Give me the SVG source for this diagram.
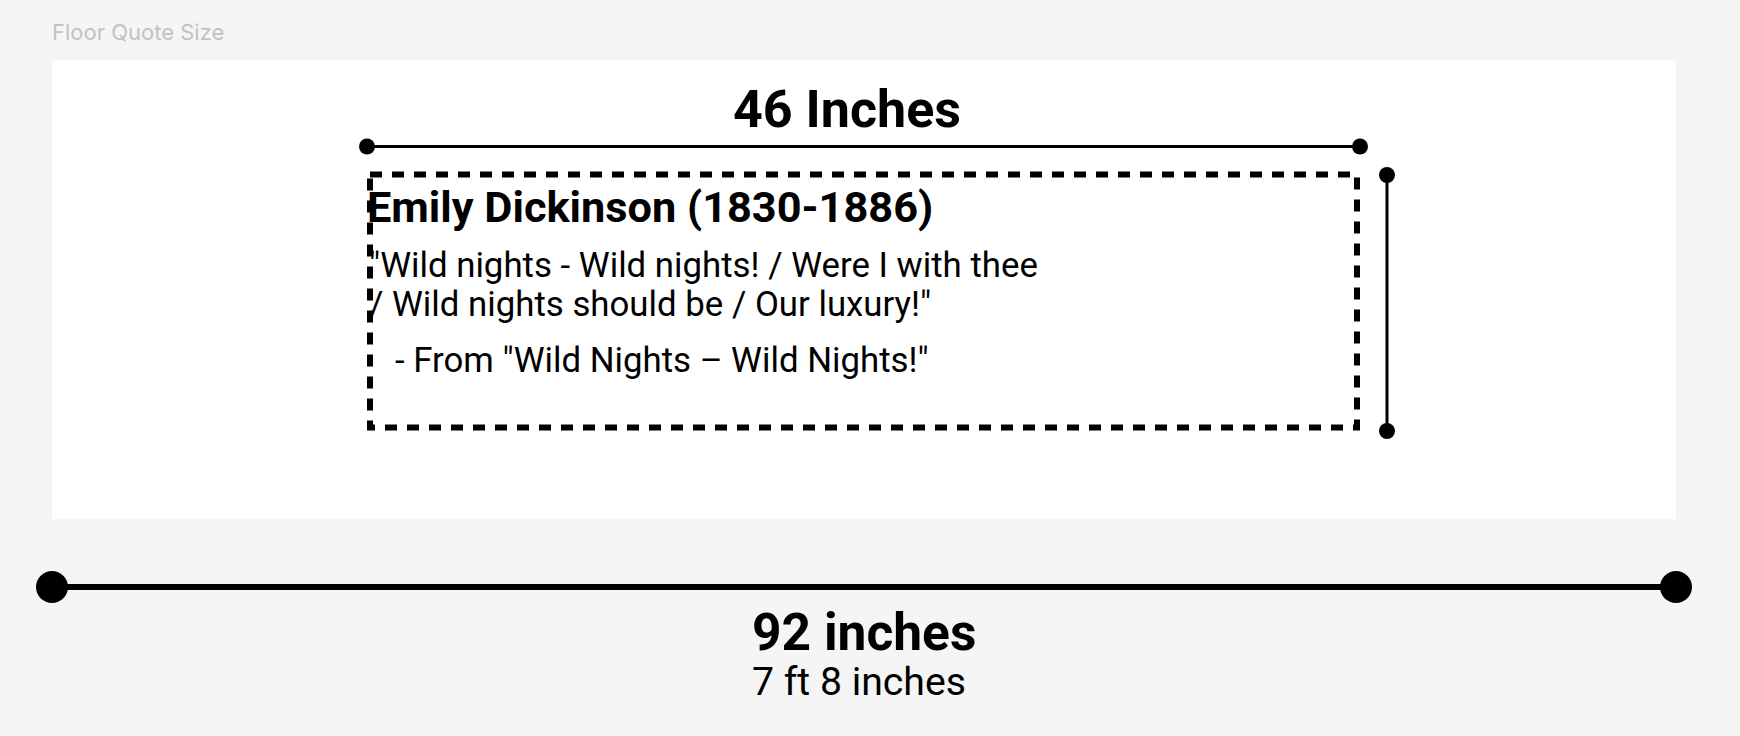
<svg xmlns="http://www.w3.org/2000/svg" width="1740" height="736" viewBox="0 0 1740 736">
<style>
.t{font-family:Roboto,"Liberation Sans",sans-serif;fill:#000}
.b{font-weight:700}
.dim{stroke:#000;fill:none}
.dot{fill:#000}
</style>
<rect width="1740" height="736" fill="#f5f5f5"/>
<text x="52" y="40" font-family="Inter,'Liberation Sans',sans-serif" font-size="22" fill="#c2c2c2">Floor Quote Size</text>
<g id="panel">
<rect x="52" y="60" width="1624" height="459" fill="#fff"/>
</g>
<g id="quote">
<rect x="370" y="174.5" width="987" height="253" fill="none" stroke="#000" stroke-width="6" stroke-dasharray="12 10"/>
<text class="t b" x="367" y="222" font-size="43.3">Emily Dickinson (1830-1886)</text>
<text class="t" x="369" y="277" font-size="34.8">"Wild nights - Wild nights! / Were I with thee</text>
<text class="t" x="369" y="316" font-size="34.8">/ Wild nights should be / Our luxury!"</text>
<text class="t" x="395" y="372" font-size="34.8">- From "Wild Nights – Wild Nights!"</text>
</g>
<g id="connectors">
<line class="dim" x1="367" y1="146.5" x2="1360" y2="146.5" stroke-width="3"/>
<circle class="dot" cx="367" cy="146.5" r="8"/>
<circle class="dot" cx="1360" cy="146.5" r="8"/>
<line class="dim" x1="1387" y1="175" x2="1387" y2="431" stroke-width="3"/>
<circle class="dot" cx="1387" cy="175" r="8"/>
<circle class="dot" cx="1387" cy="431" r="8"/>
<line class="dim" x1="52" y1="587" x2="1676" y2="587" stroke-width="6"/>
<circle class="dot" cx="52" cy="587" r="16"/>
<circle class="dot" cx="1676" cy="587" r="16"/>
</g>
<g id="label-46">
<text class="t b" x="847" y="127" font-size="52" text-anchor="middle">46 Inches</text>
</g>
<g id="label-92">
<text class="t b" x="752" y="650" font-size="51.5">92 inches</text>
<text class="t" x="752" y="695" font-size="39.2">7 ft 8 inches</text>
</g>
</svg>
